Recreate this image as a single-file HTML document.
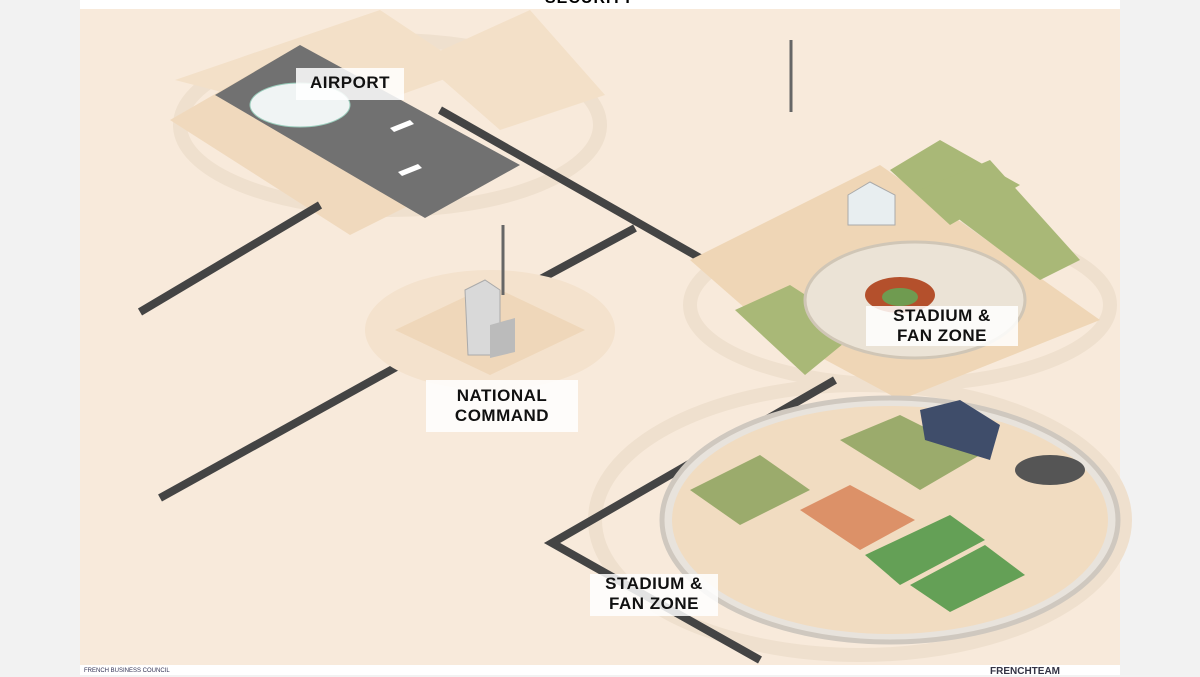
<!DOCTYPE html>
<html><head><meta charset="utf-8"><style>
html,body{margin:0;padding:0;background:#f2f2f2;width:1200px;height:675px;overflow:hidden;font-family:"Liberation Sans",sans-serif}
.panel{position:absolute;left:80px;top:0;width:1040px;height:675px;background:#fff}
.lbl{position:absolute;background:rgba(255,255,255,0.85);font-weight:bold;font-size:17px;letter-spacing:0.5px;text-align:center;line-height:20px;color:#111}
</style></head><body>
<div class="panel"></div>
<div style="position:absolute;left:545px;top:-10px;font-weight:bold;font-size:16px;letter-spacing:1px">SECURITY</div>
<svg style="position:absolute;left:0;top:0" width="1200" height="675">
<rect x="80" y="9" width="1040" height="656" fill="#f8eadb"/>
<!-- halos -->
<g fill="none" stroke="#efe0ce" stroke-width="14">
<ellipse cx="390" cy="125" rx="210" ry="85"/>
<ellipse cx="900" cy="305" rx="210" ry="80"/>
<ellipse cx="860" cy="520" rx="265" ry="135"/>
</g>
<!-- airport platforms -->
<polygon points="175,80 380,10 470,70 330,120" fill="#f3e0c8"/>
<polygon points="420,60 530,10 605,95 500,130" fill="#f3e0c8"/>
<polygon points="170,120 300,45 500,160 350,235" fill="#f0d9bd"/>
<polygon points="215,95 300,45 520,165 425,218" fill="#717171"/>
<ellipse cx="300" cy="105" rx="50" ry="22" fill="#f0f4f4" stroke="#9cb"/>
<g fill="#fff"><path d="M390,128 l20,-8 l4,4 l-20,8z"/><path d="M398,172 l20,-8 l4,4 l-20,8z"/></g>
<!-- roads -->
<g stroke="#444" stroke-width="8" fill="none">
<polyline points="440,110 730,275"/>
<polyline points="635,228 535,282"/>
<polyline points="140,312 320,205"/>
<polyline points="160,498 400,365"/>
<polyline points="835,380 552,543 760,660"/>
</g>
<!-- national command -->
<ellipse cx="490" cy="330" rx="125" ry="60" fill="#f4e2cd"/>
<polygon points="395,330 490,285 585,330 490,375" fill="#efd7ba"/>
<polygon points="465,290 485,280 500,290 500,355 468,355" fill="#d9d9d9" stroke="#aaa"/>
<polygon points="490,325 515,318 515,352 490,358" fill="#bbb"/>
<line x1="503" y1="225" x2="503" y2="295" stroke="#666" stroke-width="3"/>
<line x1="791" y1="40" x2="791" y2="112" stroke="#666" stroke-width="3"/>
<!-- stadium platform -->
<polygon points="690,260 880,165 1100,320 900,400 770,330" fill="#efd6b6"/>
<polygon points="890,170 940,140 1020,185 950,225" fill="#a9b877"/>
<polygon points="920,190 990,160 1080,260 1040,280" fill="#a9b877"/>
<polygon points="735,310 790,285 860,330 805,375" fill="#a9b877"/>
<ellipse cx="915" cy="300" rx="110" ry="58" fill="#ebe3d6" stroke="#d0c6b6" stroke-width="3"/>
<ellipse cx="900" cy="295" rx="35" ry="18" fill="#b4502c"/>
<ellipse cx="900" cy="297" rx="18" ry="9" fill="#6f9b50"/>
<polygon points="848,195 870,182 895,195 895,225 848,225" fill="#e8eef0" stroke="#aaa"/>
<!-- fan zone -->
<ellipse cx="890" cy="520" rx="228" ry="122" fill="#e8e3dc" stroke="#cfc8bf" stroke-width="5"/>
<ellipse cx="890" cy="520" rx="218" ry="114" fill="#f1dcc1"/>
<polygon points="690,490 760,455 810,490 740,525" fill="#9bab6c"/>
<polygon points="840,440 900,415 980,455 920,490" fill="#9bab6c"/>
<polygon points="865,555 950,515 985,540 900,585" fill="#64a056"/>
<polygon points="910,585 985,545 1025,575 950,612" fill="#64a056"/>
<polygon points="800,510 850,485 915,520 860,550" fill="#dc9168"/>
<polygon points="920,410 960,400 1000,425 990,460 925,440" fill="#3f4d6a"/>
<ellipse cx="1050" cy="470" rx="35" ry="15" fill="#555"/>
</svg>
<div class="lbl" style="left:296px;top:68px;width:108px;height:32px;line-height:30px">AIRPORT</div>
<div class="lbl" style="left:866px;top:306px;width:152px;height:40px">STADIUM &amp;<br>FAN ZONE</div>
<div class="lbl" style="left:426px;top:380px;width:152px;height:52px;padding-top:6px;box-sizing:border-box">NATIONAL<br>COMMAND</div>
<div class="lbl" style="left:590px;top:574px;width:128px;height:42px">STADIUM &amp;<br>FAN ZONE</div>
<div style="position:absolute;left:84px;top:668px;font-size:6px;color:#335">FRENCH BUSINESS COUNCIL</div>
<div style="position:absolute;left:990px;top:666px;font-size:10px;font-weight:bold;color:#334">FRENCHTEAM</div>
</body></html>
